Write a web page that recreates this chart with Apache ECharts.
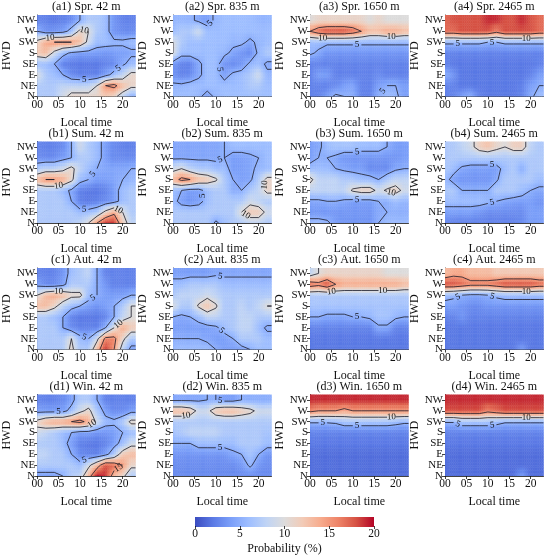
<!DOCTYPE html>
<html>
<head>
<meta charset="utf-8">
<script src="https://cdn.jsdelivr.net/npm/echarts@6/dist/echarts.min.js"></script>
<style>
  html, body { margin: 0; padding: 0; background: #fff; }
  #chart { width: 550px; height: 556px; }
</style>
</head>
<body>
<div id="chart"></div>
<script>
// hour bins (centre of each 2-hour bin) and wind directions, bottom to top
var hours = [0, 2, 4, 6, 8, 10, 12, 14, 16, 18, 20, 22];
var dirs = ['N', 'NE', 'E', 'SE', 'S', 'SW', 'W', 'NW'];
var dirTicks = [0, 1, 2, 3, 4, 5, 6, 7];
var timeTicks = [0, 5, 10, 15, 20];
var barTicks = [0, 5, 10, 15, 20];
var levels = [5, 10, 15];
var titles = [
  '(a1) Spr. 42 m', '(a2) Spr. 835 m', '(a3) Spr. 1650 m', '(a4) Spr. 2465 m',
  '(b1) Sum. 42 m', '(b2) Sum. 835 m', '(b3) Sum. 1650 m', '(b4) Sum. 2465 m',
  '(c1) Aut. 42 m', '(c2) Aut. 835 m', '(c3) Aut. 1650 m', '(c4) Aut. 2465 m',
  '(d1) Win. 42 m', '(d2) Win. 835 m', '(d3) Win. 1650 m', '(d4) Win. 2465 m'
];

// probability (%) per panel, rows written top (NW) to bottom (N), columns = hours
var spr42 = [
  [2.5, 2.5, 2, 2.5, 3, 5, 7, 7, 6, 3.5, 2.5, 2.5],
  [5, 3.5, 3.5, 4, 6, 11, 10, 7, 6, 3.5, 3, 3],
  [11, 14, 15, 15, 15, 13, 9, 6, 6, 5.5, 5.5, 6],
  [12, 13, 9, 6, 4.5, 4, 4, 4, 3.5, 4, 4, 4.5],
  [6, 6, 5, 2.5, 2, 2, 2, 2, 2.5, 3, 4.5, 6],
  [10, 7, 6, 5, 3, 2.5, 2.5, 2.5, 4, 6, 8, 11],
  [7, 7, 7, 8, 8, 8, 8, 10, 15, 16, 13, 11],
  [7, 7, 7, 9, 11, 11, 11, 11, 12, 11, 8, 5]
];
var spr835 = [
  [5.5, 5.5, 5.5, 4.5, 4, 5.5, 6, 6, 6, 6, 5.5, 5.5],
  [6, 7, 7, 9, 6, 6, 6, 6, 6, 6, 6, 6],
  [10, 7, 6, 6, 6, 6, 6, 5.5, 5.5, 4.5, 5.5, 6],
  [10, 6, 6, 6, 6, 6, 5.5, 4.5, 3.5, 3, 5.5, 7],
  [3.5, 2.5, 2.5, 4.5, 6, 6, 3.5, 3, 3.5, 5.5, 6, 4.5],
  [3.5, 2.5, 3, 4.5, 6, 6, 4, 5.5, 6, 7, 9, 5.5],
  [5.5, 5.5, 6, 6, 6, 6, 6, 6, 6, 7, 7, 6],
  [6, 6, 6, 5.5, 4, 5.5, 6, 6, 6, 6, 6, 6]
];
var spr1650 = [
  [10, 11, 11, 11, 11, 11, 11, 10, 11, 10, 10, 10],
  [15, 17, 18, 18, 18, 17, 15, 13, 13, 14, 14, 13],
  [6, 6, 5.5, 5.5, 5.5, 5.5, 5.5, 5.5, 5.5, 5.5, 5.5, 5.5],
  [5.5, 4.5, 3.5, 3.5, 3.5, 3.5, 3.5, 3.5, 3.5, 3.5, 3.5, 3.5],
  [2.5, 2.5, 2.5, 2.5, 2.5, 2.5, 2.5, 2.5, 2.5, 2.5, 2.5, 2.5],
  [2.5, 4, 4, 2.5, 2.5, 2.5, 2.5, 2.5, 3, 2.5, 2.5, 2.5],
  [2.5, 2.5, 2.5, 3, 4, 4.5, 2.5, 2.5, 4, 5, 5, 4],
  [2.5, 2.5, 4, 5.5, 5, 5, 2.5, 2.5, 5, 6, 5.5, 4]
];
var spr2465 = [
  [17, 18, 18, 18, 18, 19, 19, 18, 18, 19, 18, 17],
  [17, 17, 18, 18, 18, 18, 16, 18, 18, 18, 18, 17],
  [5.5, 5.5, 5.5, 5.5, 5.5, 5, 5, 5.5, 5.5, 5.5, 5.5, 5.5],
  [2.5, 2.5, 2.5, 2.5, 2.5, 2.5, 2.5, 2.5, 2.5, 2.5, 2.5, 2.5],
  [2.5, 2, 2, 2, 2, 2, 2, 2, 2, 2, 2, 2.5],
  [5, 3.5, 2, 2, 2, 2, 2, 2, 2, 2, 2.5, 4],
  [2.5, 2.5, 2, 2, 2, 2, 2, 2, 2, 2.5, 4, 5],
  [2.5, 2.5, 4, 5, 2.5, 2, 2, 2, 2, 2.5, 4.5, 6]
];
var sum42 = [
  [2.5, 2.5, 2.5, 3, 5, 9, 7, 6, 4, 3, 2.5, 2.5],
  [3, 3, 3, 4, 5, 7, 7, 6, 4, 3, 3, 3],
  [7, 8, 8, 9, 11, 8, 6, 5, 4.5, 4.5, 4.5, 5],
  [13, 15, 15, 14, 11, 6, 5, 4, 4, 4.5, 5, 5.5],
  [7, 7, 7, 6, 4.5, 2.5, 2, 2, 2.5, 4, 6, 7],
  [7, 7, 7, 7, 5, 2.5, 2, 2.5, 3, 4, 6, 7],
  [7, 7, 7, 7, 7, 6, 6, 7, 11, 14, 10, 7],
  [7, 7, 7, 7, 7, 8, 10, 15, 19, 19, 12, 8]
];
var sum835 = [
  [4.5, 4.5, 4.5, 4.5, 4.5, 4.5, 5, 6, 6, 6, 6, 6],
  [4.5, 4.5, 4.5, 4.5, 4.5, 4.5, 5, 4, 4, 4.5, 5, 6],
  [9, 10, 8, 7, 7, 6, 6, 4, 4, 4.5, 5.5, 6],
  [13, 16, 15, 13, 12, 10.5, 7, 5, 4, 4.5, 7, 11],
  [6, 5, 4, 4, 6, 7, 7, 5, 5, 7, 8, 11],
  [6, 4, 3.5, 4, 6, 7, 7, 7, 7, 9, 8, 7],
  [7, 7, 7, 7, 7, 7, 7, 7, 10, 12, 12, 9],
  [7, 7, 7, 7, 7, 4.5, 6, 7, 7, 8, 8, 7]
];
var sum1650 = [
  [4, 4.5, 6, 6.5, 6.5, 6.5, 6, 6, 6, 5, 4, 4],
  [4, 5, 5, 4.5, 3.5, 3.5, 3.5, 3.5, 3.5, 3.5, 3.5, 4],
  [6, 6, 6, 5, 4.5, 4, 4, 3, 3, 3, 4.5, 5],
  [11, 8, 8, 8, 7, 7, 6, 6, 5, 7, 8, 8],
  [8, 8, 8, 8, 8, 10.5, 11.5, 11.5, 9, 10.5, 11.5, 9],
  [4.5, 4.5, 5, 5, 4.5, 4, 4, 4, 5, 5, 6, 5.5],
  [3.5, 3.5, 3.5, 3.5, 3.5, 3.5, 3.5, 3.5, 4.5, 5, 5, 5],
  [6, 6, 5.5, 4, 3.5, 3.5, 3.5, 3.5, 5, 6, 6, 6]
];
var sum2465 = [
  [7, 7, 8, 9, 11.5, 12.5, 11, 10, 11.5, 11.5, 8, 7],
  [7, 7, 7, 7, 7, 7, 7, 7, 7, 7, 7, 7],
  [7, 6, 4.5, 4, 4, 4, 4, 6, 7, 5, 7, 7],
  [6, 4, 3.5, 3.5, 3.5, 3.5, 4.5, 7, 7, 7, 7, 6],
  [7, 7, 5, 5, 5, 5, 7, 7, 7, 6, 5, 4.5],
  [6, 6, 6, 6, 6, 5.5, 5, 4.5, 4, 4, 4, 3.5],
  [4, 4, 4, 4, 3.5, 3, 3, 3, 3, 3, 4, 4],
  [3, 2.5, 2.5, 2.5, 2.5, 2.5, 2.5, 2.5, 2.5, 3, 4, 4]
];
var aut42 = [
  [2.5, 2.5, 2.5, 3.5, 6, 7, 8, 5, 2.5, 2.5, 2.5, 2.5],
  [4, 3, 3, 4, 7, 7, 7, 5, 3.5, 2.5, 2.5, 2.5],
  [10, 13, 14, 13, 11, 11, 6, 5, 4, 4, 4, 5],
  [13, 13, 11, 8, 6, 5, 4, 3.5, 4, 5, 7, 10],
  [7, 7, 6, 5, 2.5, 2, 2, 2, 2.5, 5, 8, 10],
  [7, 7, 7, 5, 3, 2.5, 2.5, 2.5, 5, 10, 14, 12],
  [7, 7, 7, 7, 10, 6, 5, 9, 16, 16, 11, 7],
  [7, 7, 7, 7, 11, 7, 7, 13, 19, 15, 8, 4]
];
var aut835 = [
  [4, 4, 4, 4, 4, 4.5, 4.5, 4.5, 4.5, 4.5, 4.5, 4.5],
  [6, 6, 7, 7, 7, 7, 6, 6, 6, 6, 6, 6],
  [7, 8, 8, 8, 9, 8, 7, 7, 7, 7, 7, 7],
  [10, 7, 7, 10.5, 12.5, 10.5, 7, 7, 8, 7, 8, 10],
  [5, 4.5, 5, 6, 8, 8, 7, 7, 8, 8, 7, 7],
  [4, 4, 4, 4, 4, 4.5, 6, 7, 8, 8, 6, 4.5],
  [5, 5, 5, 5, 4.5, 4, 4, 5, 7, 7, 7, 6],
  [6, 6, 6, 6, 6, 5, 4, 4, 4, 5, 6, 6]
];
var aut1650 = [
  [8, 10, 11, 11, 11, 11, 11, 11, 11, 10, 10, 10],
  [17, 16, 18, 15, 14, 14, 14, 14, 14, 14, 14, 13],
  [7, 7, 7, 7, 7, 7, 7, 7, 7, 7, 7, 7],
  [6.5, 6.5, 6.5, 6.5, 6.5, 6.5, 6.5, 6.5, 6.5, 6.5, 6.5, 6.5],
  [5, 5, 4.5, 4.5, 4.5, 5, 5, 5.5, 6.5, 6.5, 5.5, 5],
  [2.5, 2.5, 2.5, 2.5, 2.5, 2.5, 2.5, 2.5, 4.5, 4.5, 2.5, 2.5],
  [2, 2, 2, 2, 2, 2, 2, 2, 2, 2, 2, 2],
  [2, 2, 2, 2, 2, 2, 2, 2, 2, 2, 2, 2]
];
var aut2465 = [
  [13, 14, 14, 13, 13, 13, 12, 12, 12, 12, 12, 12],
  [18, 18, 17, 16, 16, 16, 17, 18, 18, 18, 18, 17],
  [6, 5.5, 5, 4.5, 4.5, 5, 5.5, 6, 6, 6, 6, 6],
  [4, 4, 3.5, 3, 3, 3.5, 3.5, 3.5, 3.5, 3.5, 3.5, 3.5],
  [2.5, 2.5, 3.5, 2.5, 2.5, 2.5, 2.5, 2.5, 2.5, 2.5, 2.5, 2.5],
  [2, 2, 2, 2, 2, 2, 2, 2, 2, 2, 2, 2],
  [2, 2, 2, 2, 2, 2, 2, 2, 2, 2, 2, 2],
  [2, 2, 2, 2, 2, 2, 2, 2, 2, 4, 2, 2]
];
var win42 = [
  [2.5, 2.5, 2.5, 3, 4, 7, 7, 5, 2.5, 2.5, 2.5, 2.5],
  [4, 4, 4, 4, 6, 9, 11, 7, 4, 3, 3, 4],
  [11, 13, 14, 14, 15, 16, 14, 9, 6, 5.5, 7, 11],
  [9, 8, 7, 6, 5, 4, 4, 3.5, 3.5, 4, 5, 6],
  [7, 7, 7, 6, 4, 2.5, 2, 2, 2.5, 4, 6, 9],
  [8, 8, 7, 7, 5, 3, 2.5, 2.5, 4, 7, 12, 13],
  [7, 7, 7, 7, 7, 6, 9, 13, 18, 17, 15, 11],
  [4, 4, 4, 5, 7, 8, 13, 20, 19, 13, 11, 7]
];
var win835 = [
  [4.5, 4.5, 4.5, 4.5, 5, 5, 4, 4, 5, 5, 5, 5],
  [13, 13, 12, 9, 9, 12, 13, 13, 12, 11, 9, 9],
  [7, 7, 7, 7, 7, 7, 7, 7, 7, 7, 7, 7],
  [6.5, 7, 8, 8, 8, 8, 7, 7, 7, 7, 7, 6.5],
  [5, 5, 5, 6, 6, 6, 6, 6, 7, 7, 7, 6],
  [3.5, 3.5, 3.5, 3.5, 3.5, 3.5, 3.5, 4.5, 5, 6.5, 5, 3.5],
  [3, 3, 3, 3, 3, 3, 3, 3, 3.5, 5.5, 3.5, 3],
  [3, 3, 3, 3, 3, 3, 3, 3, 3, 3, 3, 3]
];
var win1650 = [
  [19, 19, 19, 19, 19, 19, 19, 19, 19, 19, 19, 19],
  [16, 15, 15, 15, 14, 15, 15, 15, 15, 15, 15, 15],
  [5.3, 5.3, 5.3, 5.5, 6.5, 6.5, 6.5, 6.5, 6.5, 6.5, 6, 5.5],
  [2.5, 2.5, 2.5, 2.5, 2.5, 2.5, 2.5, 2.5, 2.5, 2.5, 2.5, 2.5],
  [2, 2, 2, 2, 2, 2, 2, 2, 2, 2, 2, 2],
  [1.5, 1.5, 1.5, 1.5, 1.5, 1.5, 1.5, 1.5, 1.5, 1.5, 1.5, 1.5],
  [1.5, 1.5, 1.5, 1.5, 1.5, 1.5, 1.5, 1.5, 1.5, 1.5, 1.5, 1.5],
  [1.5, 1.5, 1.5, 1.5, 1.5, 1.5, 1.5, 1.5, 1.5, 1.5, 1.5, 1.5]
];
var win2465 = [
  [19, 19, 19, 19, 19, 19, 19, 19, 19, 19, 19, 19],
  [18, 18, 18, 18, 18, 16, 17, 18, 18, 18, 18, 18],
  [5.2, 5.2, 6.5, 6.5, 6.5, 6.5, 6, 5.3, 5.3, 5.3, 5.3, 5.3],
  [2.5, 2.5, 2.5, 2.5, 2.5, 2.5, 2.5, 2.5, 2.5, 2.5, 2.5, 2.5],
  [2, 2, 2, 2, 2, 2, 2, 2, 2, 2, 2, 2],
  [1.5, 1.5, 1.5, 1.5, 1.5, 1.5, 1.5, 1.5, 1.5, 1.5, 1.5, 1.5],
  [1.5, 1.5, 1.5, 1.5, 1.5, 1.5, 1.5, 1.5, 1.5, 1.5, 1.5, 1.5],
  [1.5, 1.5, 1.5, 1.5, 1.5, 1.5, 1.5, 1.5, 1.5, 4, 1.5, 1.5]
];
var panels = [spr42, spr835, spr1650, spr2465, sum42, sum835, sum1650, sum2465,
              aut42, aut835, aut1650, aut2465, win42, win835, win1650, win2465];

var coolwarm = ['#3b4cc0', '#5b7ae5', '#7b9ff9', '#9ebeff', '#c0d4f5', '#dddcdc',
                '#f2cbb7', '#f7ac8e', '#ee8468', '#d65244', '#b40426'];
var FONT = 'Liberation Serif';
var colLeft = [37, 173, 310, 445];
var rowTop = [15, 141.5, 268, 394.5];
var PW = 98.5, PH = 81.5;
var XMAX = 23, YMAX = 7.5, VMAX = 20;
var SUB = 4; // sub-steps per cell for shading

function pad2(v) { return (v < 10 ? '0' : '') + v; }
function colorOf(v) { return echarts.color.lerp(Math.min(Math.max(v / VMAX, 0), 1), coolwarm); }

// bilinear value between bin centres (used for shading)
function makeField(rows) {
  var g = rows.slice().reverse();
  var nx = hours.length, ny = dirs.length, step = hours[1] - hours[0];
  return function (x, y) {
    var fx = Math.min(Math.max((x - hours[0]) / step, 0), nx - 1);
    var fy = Math.min(Math.max(y, 0), ny - 1);
    var i = Math.min(Math.floor(fx), nx - 2), j = Math.min(Math.floor(fy), ny - 2);
    var tx = fx - i, ty = fy - j;
    var lo = g[j][i] * (1 - tx) + g[j][i + 1] * tx;
    var hi = g[j + 1][i] * (1 - tx) + g[j + 1][i + 1] * tx;
    return lo * (1 - ty) + hi * ty;
  };
}

// marching squares on the bin centres (edge bins repeated out to the frame)
function contourSegs(rows) {
  var g = rows.slice().reverse().map(function (r) { return r.concat([r[r.length - 1]]); });
  g.push(g[g.length - 1]);
  var xs = hours.concat([XMAX]);
  var ys = dirTicks.concat([YMAX]);
  var segs = [];
  levels.forEach(function (L) {
    function cut(a, b) { return (a < L) !== (b < L); }
    function t(a, b) { return (L - a) / (b - a); }
    for (var j = 0; j < ys.length - 1; j++) {
      for (var i = 0; i < xs.length - 1; i++) {
        var x0 = xs[i], x1 = xs[i + 1], y0 = ys[j], y1 = ys[j + 1];
        var bl = g[j][i], br = g[j][i + 1], tl = g[j + 1][i], tr = g[j + 1][i + 1];
        var eB = cut(bl, br) ? [x0 + (x1 - x0) * t(bl, br), y0] : null;
        var eR = cut(br, tr) ? [x1, y0 + (y1 - y0) * t(br, tr)] : null;
        var eT = cut(tl, tr) ? [x0 + (x1 - x0) * t(tl, tr), y1] : null;
        var eL = cut(bl, tl) ? [x0, y0 + (y1 - y0) * t(bl, tl)] : null;
        var list = [eB, eR, eT, eL].filter(Boolean);
        var pairs = [];
        if (list.length === 2) {
          pairs.push([list[0], list[1]]);
        } else if (list.length === 4) {
          var cen = (bl + br + tl + tr) / 4;
          if ((cen < L) === (bl < L)) pairs.push([eB, eR], [eT, eL]);
          else pairs.push([eB, eL], [eT, eR]);
        }
        pairs.forEach(function (p) { segs.push([p[0][0], p[0][1], p[1][0], p[1][1], 0, L]); });
      }
    }
  });
  // choose a few segments to carry the inline level labels
  var pxX = PW / XMAX, pxY = PH / YMAX, placed = [];
  var order = segs.map(function (s, n) { return n; }).sort(function (a, b) {
    var ma = Math.abs((segs[a][0] + segs[a][2]) / 2 - 11), mb = Math.abs((segs[b][0] + segs[b][2]) / 2 - 11);
    return ma - mb;
  });
  var count = {};
  order.forEach(function (n) {
    var s = segs[n];
    var dx = (s[2] - s[0]) * pxX, dy = (s[3] - s[1]) * pxY;
    if (Math.sqrt(dx * dx + dy * dy) < 6) return;
    var mx = (s[0] + s[2]) / 2 * pxX, my = (s[1] + s[3]) / 2 * pxY;
    if (mx < 6 || mx > PW - 6 || my < 5 || my > PH - 5) return;
    if ((count[s[5]] || 0) >= 2) return;
    for (var q = 0; q < placed.length; q++) {
      var ddx = placed[q][0] - mx, ddy = placed[q][1] - my;
      if (ddx * ddx + ddy * ddy < 34 * 34) return;
    }
    placed.push([mx, my]);
    count[s[5]] = (count[s[5]] || 0) + 1;
    s[4] = 1;
  });
  return segs;
}

function makeCellItem(field) {
  return function (params, api) {
    var h = api.value(0), d = api.value(1);
    var x0 = Math.max(0, h - 1), x1 = Math.min(XMAX, h + 1);
    var y0 = Math.max(0, d - 0.5), y1 = Math.min(YMAX, d + 0.5);
    var kids = [];
    for (var a = 0; a < SUB; a++) {
      for (var b = 0; b < SUB; b++) {
        var sx0 = x0 + (x1 - x0) * a / SUB, sx1 = x0 + (x1 - x0) * (a + 1) / SUB;
        var sy0 = y0 + (y1 - y0) * b / SUB, sy1 = y0 + (y1 - y0) * (b + 1) / SUB;
        var p0 = api.coord([sx0, sy1]), p1 = api.coord([sx1, sy0]);
        var col = colorOf(field((sx0 + sx1) / 2, (sy0 + sy1) / 2));
        kids.push({
          type: 'rect',
          shape: { x: p0[0], y: p0[1], width: p1[0] - p0[0], height: p1[1] - p0[1] },
          style: { fill: col, stroke: col, lineWidth: 0.5 }
        });
      }
    }
    return { type: 'group', children: kids };
  };
}

function lineItem(params, api) {
  var a = api.coord([api.value(0), api.value(1)]);
  var b = api.coord([api.value(2), api.value(3)]);
  if (api.value(4)) {
    var ang = Math.atan2(-(b[1] - a[1]), b[0] - a[0]);
    if (ang > Math.PI / 2) ang -= Math.PI;
    if (ang < -Math.PI / 2) ang += Math.PI;
    return {
      type: 'text', x: (a[0] + b[0]) / 2, y: (a[1] + b[1]) / 2, rotation: ang,
      style: { text: String(api.value(5)), fontFamily: FONT, fontSize: 9, fill: '#111',
               align: 'center', verticalAlign: 'middle' }
    };
  }
  return {
    type: 'line',
    shape: { x1: a[0], y1: a[1], x2: b[0], y2: b[1] },
    style: { stroke: '#1c1c28', lineWidth: 0.8 }
  };
}

var grids = [], xAxes = [], yAxes = [], series = [], titleList = [];
var tickStyle = { color: '#111', width: 0.8 };
var nameStyle = { fontFamily: FONT, fontSize: 12, color: '#111' };

panels.forEach(function (rows, k) {
  var r = Math.floor(k / 4), c = k % 4;
  grids.push({ left: colLeft[c], top: rowTop[r], width: PW, height: PH });
  titleList.push({
    text: titles[k], left: colLeft[c] + PW / 2, top: rowTop[r] - 14, textAlign: 'center', padding: 0,
    textStyle: { fontFamily: FONT, fontSize: 12, fontWeight: 'normal', color: '#111' }
  });
  xAxes.push({
    gridIndex: k, type: 'value', min: 0, max: XMAX,
    axisLine: { show: true, lineStyle: tickStyle },
    axisTick: { show: true, length: 3, customValues: timeTicks, lineStyle: tickStyle },
    axisLabel: { customValues: timeTicks, formatter: pad2, margin: 2, showMinLabel: true, showMaxLabel: true,
                 hideOverlap: false, interval: 0, fontFamily: FONT, fontSize: 11.5, color: '#111' },
    splitLine: { show: false },
    name: 'Local time', nameLocation: 'middle', nameGap: 20, nameTextStyle: nameStyle
  });
  yAxes.push({
    gridIndex: k, type: 'value', min: 0, max: YMAX,
    axisLine: { show: true, lineStyle: tickStyle },
    axisTick: { show: true, length: 3, customValues: dirTicks, lineStyle: tickStyle },
    axisLabel: { customValues: dirTicks, formatter: function (v) { return dirs[Math.round(v)]; },
                 margin: 2, showMinLabel: true, showMaxLabel: true, hideOverlap: false, interval: 0,
                 lineHeight: 9, fontFamily: FONT, fontSize: 11, color: '#111' },
    splitLine: { show: false },
    name: 'HWD', nameLocation: 'middle', nameGap: 24, nameRotate: 90, nameTextStyle: nameStyle
  });
  var cells = [];
  rows.forEach(function (row, ri) {
    var d = dirs.length - 1 - ri;
    row.forEach(function (v, hi) { cells.push([hours[hi], d, v]); });
  });
  series.push({
    type: 'custom', coordinateSystem: 'cartesian2d', xAxisIndex: k, yAxisIndex: k,
    clip: true, renderItem: makeCellItem(makeField(rows)), data: cells,
    encode: { x: 0, y: 1 }, z: 1, silent: true
  });
  series.push({
    type: 'custom', coordinateSystem: 'cartesian2d', xAxisIndex: k, yAxisIndex: k,
    clip: true, renderItem: lineItem, data: contourSegs(rows),
    encode: { x: [0, 2], y: [1, 3] }, z: 2, silent: true
  });
});

// colour bar axis
var cb = panels.length;
grids.push({ left: 195, top: 517, width: 179, height: 10 });
xAxes.push({
  gridIndex: cb, type: 'value', min: 0, max: VMAX,
  axisLine: { show: false },
  axisTick: { show: true, length: 3, customValues: barTicks, lineStyle: tickStyle },
  axisLabel: { customValues: barTicks, margin: 2, showMinLabel: true, showMaxLabel: true,
               fontFamily: FONT, fontSize: 11.5, color: '#111' },
  splitLine: { show: false },
  name: 'Probability (%)', nameLocation: 'middle', nameGap: 17, nameTextStyle: nameStyle
});
yAxes.push({ gridIndex: cb, type: 'value', min: 0, max: 1, show: false });

var chart = echarts.init(document.getElementById('chart'), null, { renderer: 'canvas' });
chart.setOption({
  animation: false,
  backgroundColor: '#fff',
  title: titleList,
  grid: grids,
  xAxis: xAxes,
  yAxis: yAxes,
  graphic: [{
    type: 'rect', left: 195, top: 517, z: -1,
    shape: { width: 179, height: 10 },
    style: {
      fill: new echarts.graphic.LinearGradient(0, 0, 1, 0, coolwarm.map(function (col, i) {
        return { offset: i / (coolwarm.length - 1), color: col };
      }))
    }
  }],
  series: series
});
</script>
</body>
</html>
